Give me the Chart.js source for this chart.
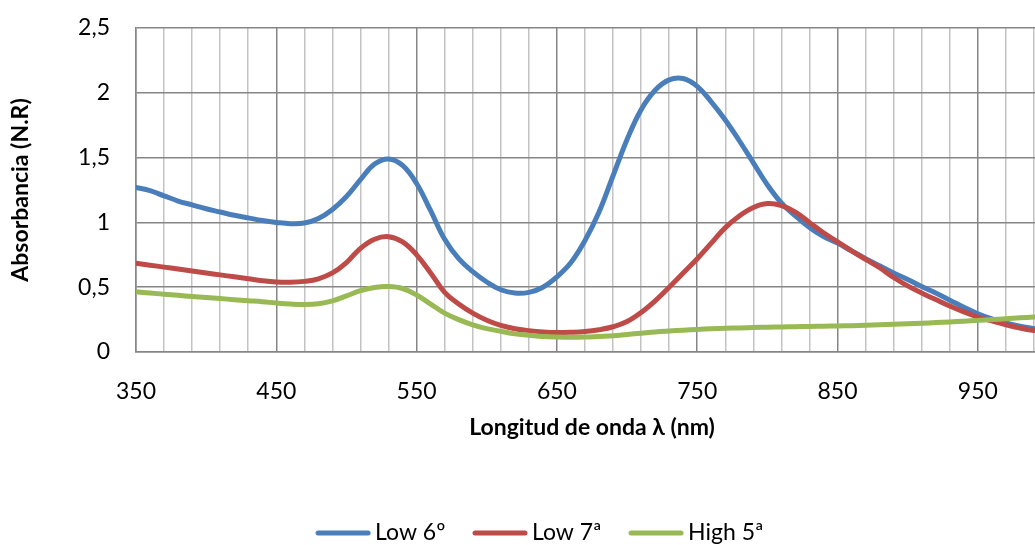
<!DOCTYPE html>
<html>
<head>
<meta charset="utf-8">
<script src="https://cdn.jsdelivr.net/npm/chart.js@4/dist/chart.umd.min.js"></script>
<style>
  html, body { margin: 0; padding: 0; background: #fff; overflow: hidden; }
  #wrap { width: 1086px; height: 545px; }
</style>
</head>
<body>
<div id="wrap"><canvas id="c" width="1086" height="545"></canvas></div>
<script>
// Wavelength samples (nm)
const wavelengths = [
  350,360,370,380,390,400,410,420,430,440,450,460,470,480,490,500,510,520,530,540,
  550,560,570,580,590,600,610,620,630,640,650,660,670,680,690,700,710,720,730,740,
  750,760,770,780,790,800,810,820,830,840,850,860,870,880,890,900,910,920,930,940,
  950,960,970,980,990,1000
];

// Absorbance (N.R) per sample
const low6 = [
  1.27,1.245,1.205,1.165,1.135,1.105,1.08,1.055,1.035,1.015,1.00,0.99,0.995,1.03,1.10,1.20,1.33,1.45,1.49,1.44,
  1.30,1.09,0.87,0.72,0.62,0.54,0.48,0.455,0.46,0.50,0.58,0.69,0.86,1.08,1.36,1.64,1.87,2.02,2.10,2.11,
  2.05,1.93,1.79,1.63,1.46,1.29,1.15,1.05,0.96,0.89,0.84,0.78,0.72,0.665,0.61,0.56,0.505,0.455,0.40,0.345,
  0.295,0.255,0.225,0.20,0.18,0.16
];
const low7 = [
  0.685,0.67,0.655,0.64,0.625,0.61,0.595,0.58,0.565,0.55,0.54,0.538,0.545,0.565,0.61,0.69,0.80,0.87,0.89,0.85,
  0.75,0.61,0.46,0.37,0.30,0.245,0.205,0.18,0.165,0.155,0.15,0.152,0.158,0.172,0.195,0.235,0.305,0.395,0.50,0.61,
  0.72,0.84,0.96,1.05,1.115,1.145,1.13,1.08,1.00,0.92,0.85,0.78,0.715,0.65,0.575,0.51,0.455,0.405,0.355,0.31,
  0.27,0.24,0.21,0.185,0.165,0.15
];
const high5 = [
  0.465,0.455,0.446,0.437,0.428,0.42,0.412,0.404,0.396,0.388,0.378,0.37,0.366,0.372,0.395,0.433,0.473,0.498,0.505,0.49,
  0.44,0.37,0.30,0.25,0.21,0.18,0.16,0.14,0.13,0.12,0.115,0.113,0.115,0.12,0.125,0.135,0.145,0.155,0.162,0.168,
  0.174,0.179,0.183,0.186,0.189,0.191,0.193,0.195,0.197,0.199,0.201,0.203,0.206,0.21,0.214,0.218,0.222,0.227,0.232,0.238,
  0.244,0.25,0.257,0.264,0.27,0.277
];

const seriesNames = ['Low 6º', 'Low 7ª', 'High 5ª'];
const seriesColors = ['#4A7EBB', '#BE4B48', '#98B954'];
const xLabeledTicks = [350, 450, 550, 650, 750, 850, 950];
const yTicks = [0, 0.5, 1, 1.5, 2, 2.5];

const X_MIN = 350, X_MAX = 1000, X_MINOR_STEP = 20;
const FONT = 'Lato';
const MAJOR_GRID = '#868686';
const MINOR_GRID = '#C3C3C3';
const LINE_W = 5;

const toXY = (vals) => vals.map((v, i) => ({ x: wavelengths[i], y: v }));

// Legend swatch: a short round-capped stroke in the series colour
function legendSwatch(color) {
  const c = document.createElement('canvas');
  c.width = 56; c.height = 8;
  const g = c.getContext('2d');
  g.strokeStyle = color; g.lineWidth = LINE_W; g.lineCap = 'round';
  g.beginPath(); g.moveTo(3, 4); g.lineTo(53, 4); g.stroke();
  return c;
}

// Fixed legend band height at the bottom
const legendHeight = {
  id: 'legendHeight',
  beforeInit(chart) {
    const fit = chart.legend.fit;
    chart.legend.fit = function () { fit.call(this); this.height = 57.5; };
  }
};

const lineDefaults = {
  fill: false, pointRadius: 0, pointHoverRadius: 0, borderWidth: LINE_W,
  borderCapStyle: 'round', borderJoinStyle: 'round', tension: 0.4
};

const seriesData = [low6, low7, high5];

new Chart(document.getElementById('c'), {
  type: 'line',
  data: {
    datasets: seriesData.map((vals, i) => ({
      ...lineDefaults,
      label: seriesNames[i],
      data: toXY(vals),
      borderColor: seriesColors[i],
      backgroundColor: seriesColors[i],
      pointStyle: legendSwatch(seriesColors[i]),
      order: 3 - i
    }))
  },
  options: {
    responsive: false,
    animation: false,
    events: [],
    layout: { padding: { top: 28, left: 0, right: 0, bottom: 0 } },
    scales: {
      x: {
        type: 'linear', min: X_MIN, max: X_MAX,
        afterBuildTicks: (scale) => {
          const t = [];
          for (let v = X_MIN; v <= X_MAX; v += X_MINOR_STEP) t.push({ value: v });
          scale.ticks = t;
        },
        afterFit: (scale) => { scale.height = 135.5; scale.paddingLeft = 0; scale.paddingRight = 0; },
        grid: {
          drawTicks: false,
          lineWidth: 1.5,
          color: (ctx) => (ctx.tick && xLabeledTicks.includes(Math.round(ctx.tick.value))) ? MAJOR_GRID : MINOR_GRID
        },
        border: { display: true, color: MAJOR_GRID, width: 1.5 },
        ticks: {
          autoSkip: false, maxRotation: 0, minRotation: 0, padding: 26,
          color: '#000', font: { family: FONT, size: 23 },
          callback: (v) => xLabeledTicks.includes(Math.round(v)) ? String(Math.round(v)) : ''
        },
        title: {
          display: true, text: 'Longitud de onda λ (nm)', color: '#000',
          font: { family: FONT, size: 23, weight: 'bold' },
          padding: { top: 0, bottom: 46 }
        }
      },
      y: {
        type: 'linear', min: 0, max: 2.5,
        afterBuildTicks: (scale) => { scale.ticks = yTicks.map(v => ({ value: v })); },
        afterFit: (scale) => { scale.width = 136; scale.paddingTop = 0; scale.paddingBottom = 0; },
        grid: { drawTicks: false, lineWidth: 1.5, color: MAJOR_GRID },
        border: { display: true, color: MAJOR_GRID, width: 1.5 },
        ticks: {
          padding: 26, color: '#000', font: { family: FONT, size: 23 },
          callback: (v) => String(v).replace('.', ',')
        },
        title: {
          display: true, text: 'Absorbancia (N.R)', color: '#000',
          font: { family: FONT, size: 23, weight: 'bold' },
          padding: { top: 7, bottom: 0 }
        }
      },
      yRight: {
        type: 'linear', position: 'right', display: true,
        afterFit: (scale) => { scale.width = 38; scale.paddingTop = 0; scale.paddingBottom = 0; },
        grid: { display: false }, border: { display: false }, ticks: { display: false }
      }
    },
    plugins: {
      legend: {
        display: true, position: 'bottom',
        labels: {
          usePointStyle: true, pointStyleWidth: 41,
          padding: 34, color: '#000', font: { family: FONT, size: 23 },
          sort: (a, b) => a.datasetIndex - b.datasetIndex
        }
      },
      tooltip: { enabled: false }
    }
  },
  plugins: [legendHeight]
});
</script>
</body>
</html>
